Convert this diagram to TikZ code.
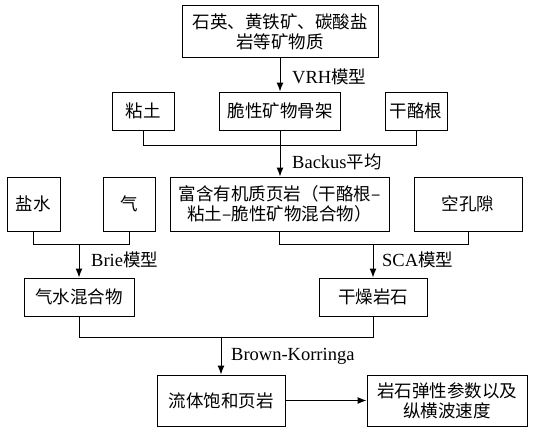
\documentclass[tikz,border=0pt]{standalone}
\usepackage{fontspec}
\setmainfont{Liberation Serif}
\newfontfamily\cjk{Noto Sans CJK SC}
\usetikzlibrary{arrows.meta}
\tikzset{
  box/.style={draw, line width=1pt, inner sep=0pt, align=center,
    font=\cjk\fontsize{17.5}{20}\selectfont},
  lbl/.style={anchor=west, inner sep=0pt, font=\cjk\fontsize{17.5}{20}\selectfont},
  conn/.style={line width=1pt},
  arr/.style={line width=1pt, -{Latex[length=9pt,width=7pt]}}
}
\newcommand{\lt}[1]{{\rmfamily\fontsize{18.5}{20}\selectfont #1}}
\begin{document}
\begin{tikzpicture}[x=1pt,y=-1pt]
\useasboundingbox (0,0) rectangle (535,428);
% boxes
\node[box, minimum width=196pt, minimum height=52pt] (top) at (280,32) {石英、黄铁矿、碳酸盐\\岩等矿物质};
\node[box, minimum width=62pt, minimum height=38pt] (clay) at (143,111) {粘土};
\node[box, minimum width=121pt, minimum height=38pt] (brittle) at (280,111) {脆性矿物骨架};
\node[box, minimum width=62pt, minimum height=38pt] (kero) at (416,111) {干酪根};
\node[box, minimum width=53pt, minimum height=54pt] (brine) at (33.5,204) {盐水};
\node[box, minimum width=52pt, minimum height=54pt] (gas) at (129,204) {气};
\node[box, minimum width=219pt, minimum height=54pt] (org) at (279.5,204) {富含有机质页岩（干酪根–\\粘土–脆性矿物混合物）};
\node[box, minimum width=108pt, minimum height=54pt] (pore) at (468,204) {空孔隙};
\node[box, minimum width=110pt, minimum height=38pt] (gw) at (79,297) {气水混合物};
\node[box, minimum width=108pt, minimum height=38pt] (dry) at (373,297) {干燥岩石};
\node[box, minimum width=128pt, minimum height=51pt] (sat) at (221,400.5) {流体饱和页岩};
\node[box, minimum width=160pt, minimum height=51pt] (elas) at (447,400.5) {岩石弹性参数以及\\纵横波速度};
% junctions
\coordinate (j1) at (280,145);
\coordinate (j2) at (79,244);
\coordinate (j3) at (373,244);
\coordinate (j4) at (221,337);
% connectors
\draw[arr] (top.south) -- (brittle.north);
\draw[conn] (clay.south) -- (clay.south |- j1) -- (kero.south |- j1) -- (kero.south);
\draw[conn] (brittle.south) -- (j1);
\draw[arr] (j1) -- (j1 |- org.north);
\draw[conn] (brine.south) -- (brine.south |- j2) -- (gas.south |- j2) -- (gas.south);
\draw[arr] (j2) -- (gw.north);
\draw[conn] (org.south) -- (org.south |- j3) -- (pore.south |- j3) -- (pore.south);
\draw[arr] (j3) -- (dry.north);
\draw[conn] (gw.south) -- (gw.south |- j4) -- (dry.south |- j4) -- (dry.south);
\draw[arr] (j4) -- (sat.north);
\draw[arr] (sat.east) -- (elas.west);
% labels
\node[lbl] (l1) at (292,77) {\lt{VRH}模型};
\node[lbl] (l2) at (292,162) {\lt{Backus}平均};
\node[lbl] (l3) at (91,260) {\lt{Brie}模型};
\node[lbl] (l4) at (382,260) {\lt{SCA}模型};
\node[lbl] (l5) at (231,356) {\lt{Brown-Korringa}};
\end{tikzpicture}
\end{document}
